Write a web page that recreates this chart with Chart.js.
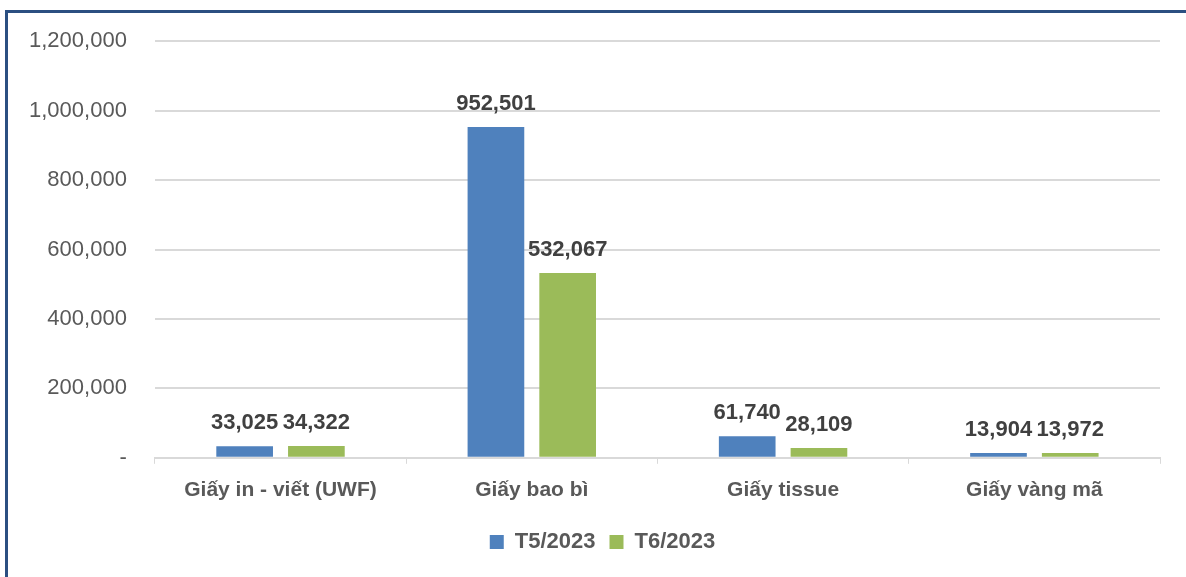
<!DOCTYPE html>
<html lang="vi">
<head>
    <meta charset="UTF-8">
    <title>Giấy T5-T6/2023</title>
    <script src="https://cdn.jsdelivr.net/npm/chart.js"></script>
    <style>
        body { margin: 0; background: #fff; }
        #wrap { position: relative; width: 1186px; height: 577px; }
        #frame {
            position: absolute; left: 5px; top: 10px; right: 0; bottom: 0;
            border-left: 3px solid #2B4F81; border-top: 3px solid #2B4F81;
            pointer-events: none;
        }
    </style>
</head>
<body>
    <div id="wrap">
        <canvas id="paperChart" width="1186" height="577"></canvas>
        <div id="frame"></div>
    </div>
    <script>
        const categories = ['Giấy in - viết (UWF)', 'Giấy bao bì', 'Giấy tissue', 'Giấy vàng mã'];
        const seriesNames = ['T5/2023', 'T6/2023'];
        const t5Values = [33025, 952501, 61740, 13904];
        const t6Values = [34322, 532067, 28109, 13972];
        const yTicks = [0, 200000, 400000, 600000, 800000, 1000000, 1200000];

        const FONT = "'Liberation Sans', Arial, sans-serif";

        // draws the value above each bar
        const valueLabels = {
            id: 'valueLabels',
            afterDatasetsDraw(chart) {
                const ctx = chart.ctx;
                ctx.save();
                ctx.font = 'bold 22px ' + FONT;
                ctx.fillStyle = '#404040';
                ctx.textAlign = 'center';
                ctx.textBaseline = 'bottom';
                chart.data.datasets.forEach((ds, i) => {
                    chart.getDatasetMeta(i).data.forEach((bar, j) => {
                        ctx.fillText(ds.data[j].toLocaleString('en-US'), bar.x, bar.y - 12);
                    });
                });
                ctx.restore();
            }
        };

        // legend sits a bit right of centre in the original
        const legendShift = {
            id: 'legendShift',
            afterLayout(chart) {
                chart.legend.left += 22;
                chart.legend.right += 22;
            }
        };

        const ctx = document.getElementById('paperChart').getContext('2d');
        new Chart(ctx, {
            type: 'bar',
            data: {
                labels: categories,
                datasets: [
                    { label: seriesNames[0], data: t5Values, backgroundColor: '#4F81BD' },
                    { label: seriesNames[1], data: t6Values, backgroundColor: '#9BBB59' }
                ]
            },
            options: {
                responsive: false,
                animation: false,
                categoryPercentage: 0.571,
                barPercentage: 0.79,
                layout: { padding: { top: 30, left: 1, right: 26, bottom: 14 } },
                plugins: {
                    legend: {
                        position: 'bottom',
                        labels: {
                            boxWidth: 14, boxHeight: 14, padding: 14,
                            color: '#595959',
                            font: { family: FONT, size: 22, weight: 'bold' }
                        }
                    },
                    tooltip: { enabled: false }
                },
                scales: {
                    x: {
                        grid: { drawOnChartArea: false, color: '#D9D9D9', tickLength: 6 },
                        border: { color: '#D9D9D9', width: 1 },
                        ticks: {
                            color: '#595959', padding: 14,
                            font: { family: FONT, size: 21, weight: 'bold' }
                        }
                    },
                    y: {
                        min: 0, max: 1200000,
                        afterBuildTicks(axis) { axis.ticks = yTicks.map(v => ({ value: v })); },
                        grid: { color: '#D9D9D9', lineWidth: 2, drawTicks: false },
                        border: { display: false },
                        ticks: {
                            color: '#595959', padding: 28,
                            font: { family: FONT, size: 22 },
                            callback: v => v === 0 ? '-' : v.toLocaleString('en-US')
                        }
                    }
                }
            },
            plugins: [valueLabels, legendShift]
        });
    </script>
</body>
</html>
